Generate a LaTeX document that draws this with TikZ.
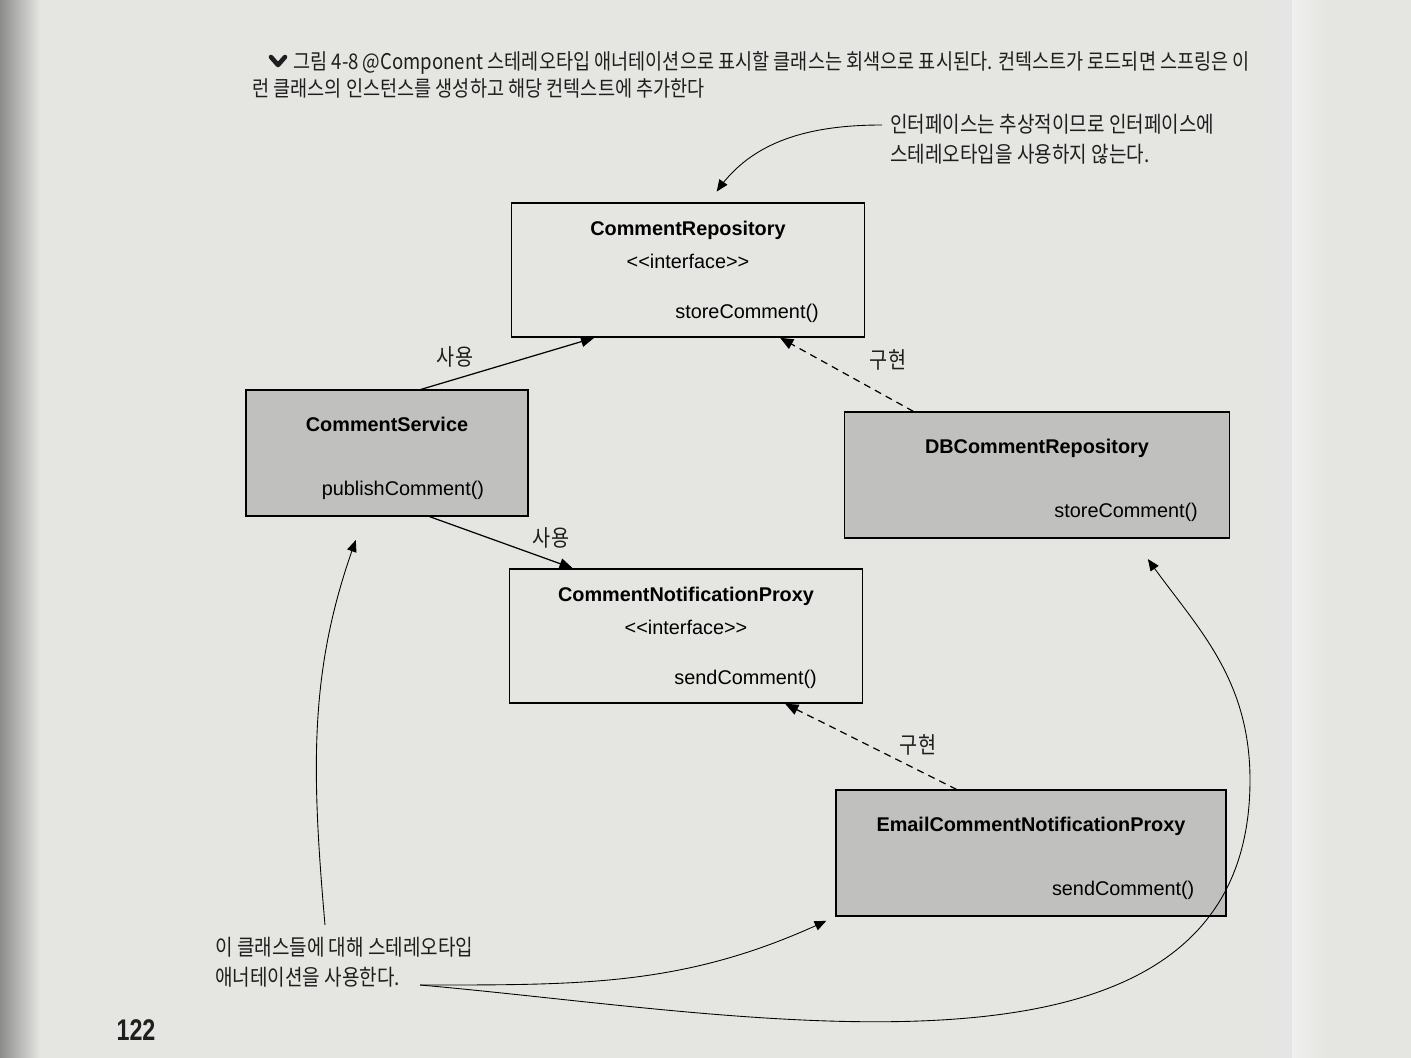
\documentclass[tikz,border=0pt]{standalone}
\usepackage{fontspec}
\setmainfont{Liberation Sans}
\newfontfamily\kr[FakeStretch=0.86]{Noto Sans CJK KR}
\usepackage{pgf, tikz}
\usetikzlibrary{shapes}
\usetikzlibrary{shapes.multipart}
\usetikzlibrary{arrows}
\usetikzlibrary{calc}

\definecolor{pagebg}{RGB}{229,229,226}
\definecolor{boxgray}{RGB}{192,192,190}
\definecolor{ink}{RGB}{30,30,30}

\newcommand{\stereo}[1]{<\kern0pt<#1>\kern0pt>}
\newcommand{\ifacetop}{\rule[-4pt]{0pt}{22pt}}
\newcommand{\ifacemid}{\rule[-4pt]{0pt}{18pt}}
\newcommand{\ifacelow}{\rule[-10pt]{0pt}{34pt}}
\newcommand{\beantop}{\rule[-4pt]{0pt}{27pt}}
\newcommand{\beanlow}{\rule[-11pt]{0pt}{43pt}}

\tikzset{
  iface/.style={draw, line width=0.8pt, fill=pagebg,
    rectangle split, rectangle split parts=3,
    rectangle split draw splits=false,
    rectangle split part align={center,center,right},
    inner ysep=0pt, inner xsep=26pt,
    font=\fontsize{11.3}{13}\selectfont},
  bean/.style={draw, line width=0.8pt, fill=boxgray,
    rectangle split, rectangle split parts=2,
    rectangle split draw splits=false,
    rectangle split part align={center,right},
    inner ysep=0pt, inner xsep=18pt,
    font=\fontsize{11.3}{13}\selectfont},
  uses/.style={-triangle 45, line width=0.7pt},
  impl/.style={uses, dash pattern=on 4pt off 3pt},
  note/.style={-triangle 45, line width=0.5pt},
  krlabel/.style={font=\kr\fontsize{13}{15}\selectfont, text=ink},
  krnote/.style={font=\kr\fontsize{12.6}{17}\selectfont, text=ink,
    align=left, inner sep=0pt}
}

\begin{document}
\begin{tikzpicture}[x=0.02cm, y=-0.02cm]
\useasboundingbox (0,0) rectangle (1411,1058);
\fill[pagebg] (0,0) rectangle (1411,1058);
\shade[left color=black!45, right color=pagebg] (0,0) rectangle (40,1058);
\shade[left color=pagebg, right color=black!10] (1255,0) rectangle (1292,1058);
\shade[left color=black!6, right color=pagebg] (1292,0) rectangle (1325,1058);

\draw[ink, line width=2.6pt, line cap=round, line join=round]
  (271,57) -- (278,65) -- (285,57);
\node[anchor=west, inner sep=0pt, font=\kr\fontsize{12.3}{14}\selectfont, text=ink]
  (capA) at (293,63)
  {그림 4-8 @Component 스테레오타입 애너테이션으로 표시할 클래스는 회색으로 표시된다. 컨텍스트가 로드되면 스프링은 이};
\node[anchor=west, inner sep=0pt, font=\kr\fontsize{12.3}{14}\selectfont, text=ink]
  (capB) at (252,88)
  {런 클래스의 인스턴스를 생성하고 해당 컨텍스트에 추가한다};

\node[iface, minimum width=7.06cm] (CR) at (688,270)
  {\textbf{CommentRepository}\ifacetop
   \nodepart{second} \stereo{interface}\ifacemid
   \nodepart{third} storeComment()\ifacelow};
\node[bean, minimum width=5.64cm, inner xsep=25pt] (CS) at (387,453)
  {\textbf{CommentService}\beantop
   \nodepart{second} publishComment()\beanlow};
\node[bean, minimum width=7.7cm] (DB) at (1037,475)
  {\textbf{DBCommentRepository}\beantop
   \nodepart{second} storeComment()\beanlow};
\node[iface, minimum width=7.06cm] (CNP) at (686,636)
  {\textbf{CommentNotificationProxy}\ifacetop
   \nodepart{second} \stereo{interface}\ifacemid
   \nodepart{third} sendComment()\ifacelow};
\node[bean, minimum width=7.8cm] (ECNP) at (1031,853)
  {\textbf{EmailCommentNotificationProxy}\beantop
   \nodepart{second} sendComment()\beanlow};

\draw[uses] ($(CS.north west)!0.62!(CS.north east)$)
  -- ($(CR.south west)!0.235!(CR.south east)$);
\draw[uses] ($(CS.south west)!0.65!(CS.south east)$)
  -- ($(CNP.north west)!0.18!(CNP.north east)$);
\draw[impl] ($(DB.north west)!0.18!(DB.north east)$)
  -- ($(CR.south west)!0.76!(CR.south east)$);
\draw[impl] ($(ECNP.north west)!0.31!(ECNP.north east)$)
  -- ($(CNP.south west)!0.78!(CNP.south east)$);

\node[krlabel] (useA) at (455,357) {사용};
\node[krlabel] (useB) at (551,538) {사용};
\node[krlabel] (implA) at (888,360) {구현};
\node[krlabel] (implB) at (918,745) {구현};

\node[krnote, anchor=north west] (noteTop) at (890,114)
  {인터페이스는 추상적이므로 인터페이스에\\스테레오타입을 사용하지 않는다.};
\draw[note, shorten >=0.26cm] ($(noteTop.north west)+(-8,11)$)
  to[out=180, in=55] ($(CR.north west)!0.56!(CR.north east)$);

\node[krnote, anchor=north west] (noteBot) at (215,937)
  {이 클래스들에 대해 스테레오타입\\애너테이션을 사용한다.};
\coordinate (fork) at (420,985);
\coordinate (bendR) at (1250,780);
\draw[note, shorten >=0.5cm] ($(noteBot.north west)+(110,-12)$)
  to[out=95, in=-110] ($(CS.south west)!0.42!(CS.south east)$);
\draw[note, shorten >=0.2cm] (fork) to[out=0, in=205] (ECNP.south west);
\draw[note, shorten >=0.5cm] (fork) to[out=-5, in=-90] (bendR)
  to[out=90, in=-55] ($(DB.south west)!0.75!(DB.south east)$);

\node[font=\bfseries\fontsize{17}{17}\selectfont, text=ink] (pageno) at (136,1030)
  {\scalebox{0.78}[1]{122}};
\end{tikzpicture}
\end{document}
